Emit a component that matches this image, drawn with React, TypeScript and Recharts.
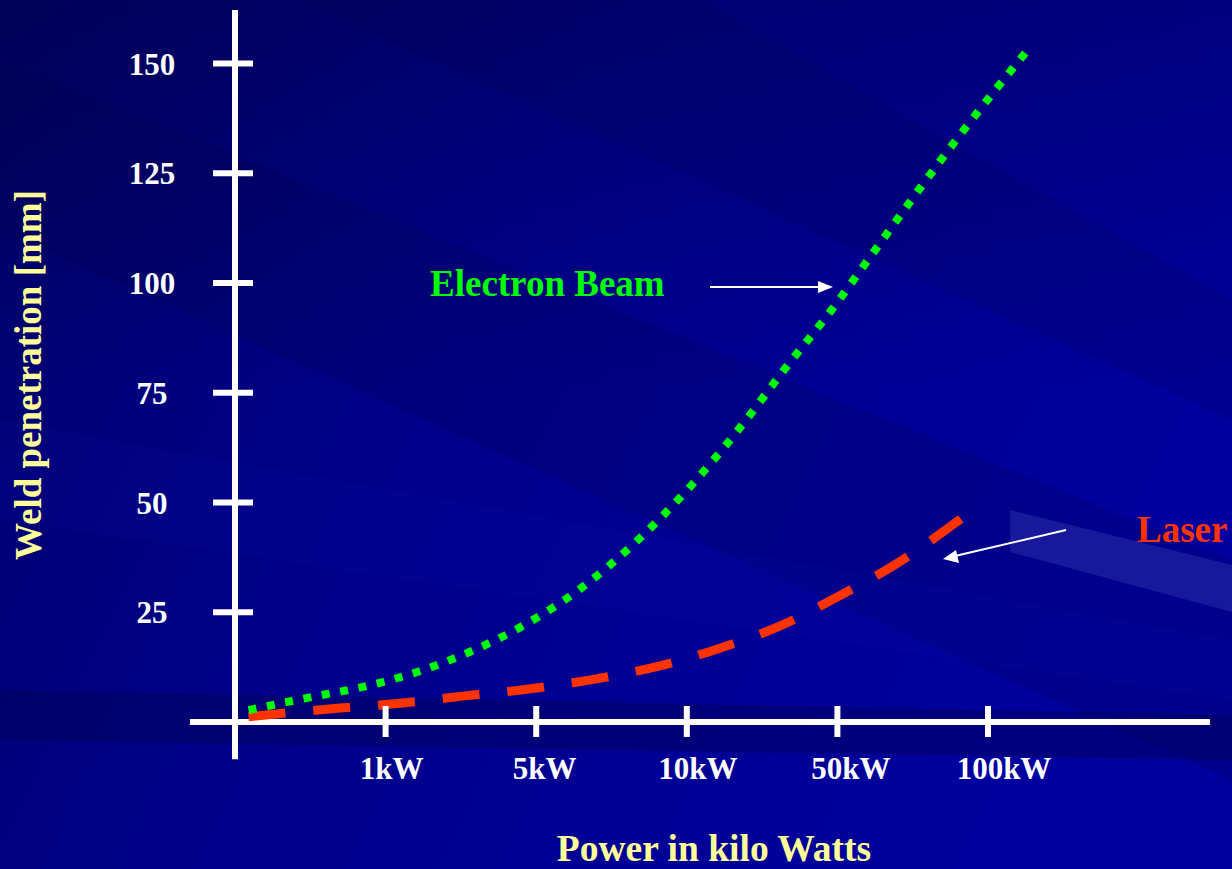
import React from 'react';
import { LineChart, Line, XAxis, YAxis, ReferenceLine, Customized } from 'recharts';

// ---- data ----
const powerTickValues = [1, 2, 3, 4, 5];
const powerTickLabels = ['1kW', '5kW', '10kW', '50kW', '100kW'];
const depthTicks = [25, 50, 75, 100, 125, 150];

const electronBeamPower = [0.09, 0.48, 0.85, 1.21, 1.56, 1.89, 2.31, 2.68, 3.03, 3.35, 3.65, 3.96, 4.25, 4.54, 4.84, 5.25];
const electronBeamDepth = [2.7, 5.5, 8.0, 11.4, 16.0, 21.5, 30.8, 41.6, 53.9, 66.9, 80.4, 93.8, 107.5, 121.2, 134.9, 152.5];

const laserPower = [0.09, 0.64, 1.08, 1.51, 1.95, 2.36, 2.8, 3.21, 3.62, 4.0, 4.38, 4.86];
const laserDepth = [1.2, 3.0, 4.2, 5.9, 7.5, 9.6, 12.6, 16.7, 21.9, 28.5, 35.8, 47.3];

const electronBeamData = electronBeamPower.map((p, i) => ({ power: p, depth: electronBeamDepth[i] }));
const laserData = laserPower.map((p, i) => ({ power: p, depth: laserDepth[i] }));

// ---- layout ----
const W = 1232;
const H = 869;
const X_MAX = 6.474;
const Y_MAX = 162.2;
const X_AXIS_START = -0.299;
const Y_AXIS_END = -8.5;
const FONT = '"Liberation Serif", "Times New Roman", serif';
const TITLE_COLOR = '#FFFF99';

const XTick = (props: any) => {
  const { x, payload } = props;
  const idx = powerTickValues.indexOf(payload.value);
  const label = powerTickLabels[idx];
  return (
    <g>
      <line x1={x} x2={x} y1={706} y2={737} stroke="#fff" strokeWidth={6} />
      <text x={x + 6 + idx * 2.5} y={779} textAnchor="middle" fill="#fff" fontFamily={FONT} fontWeight="bold" fontSize={31}>
        {label}
      </text>
    </g>
  );
};

const YTick = (props: any) => {
  const { y, payload } = props;
  return (
    <g>
      <line x1={213} x2={253} y1={y} y2={y} stroke="#fff" strokeWidth={6} />
      <text x={152} y={y + 11} textAnchor="middle" fill="#fff" fontFamily={FONT} fontWeight="bold" fontSize={31}>
        {payload.value}
      </text>
    </g>
  );
};

const Annotations = () => (
  <g>
    <text x={430} y={296} fill="#00FF00" fontFamily={FONT} fontWeight="bold" fontSize={37}>Electron Beam</text>
    <line x1={710} y1={287} x2={820} y2={287} stroke="#fff" strokeWidth={2} />
    <polygon points="833,287 818,281 818,293" fill="#fff" />
    <text x={1137} y={542} fill="#FF3300" fontFamily={FONT} fontWeight="bold" fontSize={37}>Laser</text>
    <line x1={1066} y1={530} x2={955} y2={556} stroke="#fff" strokeWidth={2} />
    <polygon points="943,559 956,550 959,563" fill="#fff" />
    <text
      x={41}
      y={375}
      transform="rotate(-90 41 375)"
      textAnchor="middle"
      fill={TITLE_COLOR}
      fontFamily={FONT}
      fontWeight="bold"
      fontSize={37}
    >
      Weld penetration [mm]
    </text>
    <text x={714} y={861} textAnchor="middle" fill={TITLE_COLOR} fontFamily={FONT} fontWeight="bold" fontSize={37.5}>
      Power in kilo Watts
    </text>
  </g>
);

const Background = () => (
  <svg width={W} height={H} style={{ position: 'absolute', left: 0, top: 0 }}>
    <defs>
      <linearGradient id="bg" x1="0" y1="0" x2="1" y2="0.35">
        <stop offset="0" stopColor="#00006A" />
        <stop offset="0.45" stopColor="#00008A" />
        <stop offset="1" stopColor="#00009E" />
      </linearGradient>
      <linearGradient id="bgv" x1="0" y1="0" x2="0" y2="1">
        <stop offset="0" stopColor="#000000" stopOpacity="0.18" />
        <stop offset="0.45" stopColor="#000000" stopOpacity="0" />
        <stop offset="1" stopColor="#000000" stopOpacity="0" />
      </linearGradient>
    </defs>
    <rect x={0} y={0} width={W} height={H} fill="url(#bg)" />
    <rect x={0} y={0} width={W} height={H} fill="url(#bgv)" />
    <polygon points="0,60 0,230 1232,780 1232,560" fill="#000040" opacity={0.18} />
    <polygon points="300,0 700,0 1232,300 1232,420" fill="#000040" opacity={0.15} />
    <polygon points="0,420 0,520 1232,700 1232,640" fill="#1010B0" opacity={0.12} />
    <polygon points="0,690 0,740 1232,760 1232,715" fill="#000050" opacity={0.4} />
    <polygon points="1010,510 1232,565 1232,612 1010,552" fill="#6060D0" opacity={0.25} />
  </svg>
);

export default function App() {
  return (
    <div style={{ position: 'absolute', left: 0, top: 0, width: W, height: H, overflow: 'hidden' }}>
      <Background />
      <div style={{ position: 'absolute', left: 0, top: 0 }}>
        <LineChart width={W} height={H} margin={{ top: 10, right: 22, bottom: 107, left: 155 }}>
          <XAxis
            dataKey="power"
            type="number"
            domain={[0, X_MAX]}
            allowDataOverflow
            ticks={powerTickValues}
            interval={0}
            axisLine={false}
            tickLine={false}
            height={40}
            tick={XTick}
          />
          <YAxis
            dataKey="depth"
            type="number"
            domain={[0, Y_MAX]}
            allowDataOverflow
            ticks={depthTicks}
            interval={0}
            axisLine={false}
            tickLine={false}
            width={80}
            tick={YTick}
          />
          <ReferenceLine
            segment={[{ x: X_AXIS_START, y: 0 }, { x: X_MAX, y: 0 }]}
            stroke="#fff"
            strokeWidth={6}
            ifOverflow="visible"
          />
          <ReferenceLine
            segment={[{ x: 0, y: Y_AXIS_END }, { x: 0, y: Y_MAX }]}
            stroke="#fff"
            strokeWidth={6}
            ifOverflow="visible"
          />
          <Line
            data={laserData}
            dataKey="depth"
            type="monotone"
            stroke="#FF3300"
            strokeWidth={9}
            strokeDasharray="37 28"
            dot={false}
            activeDot={false}
            isAnimationActive={false}
          />
          <Line
            data={electronBeamData}
            dataKey="depth"
            type="monotone"
            stroke="#00FF00"
            strokeWidth={8}
            strokeDasharray="8 10.7"
            dot={false}
            activeDot={false}
            isAnimationActive={false}
          />
          <Customized component={Annotations} />
        </LineChart>
      </div>
    </div>
  );
}
